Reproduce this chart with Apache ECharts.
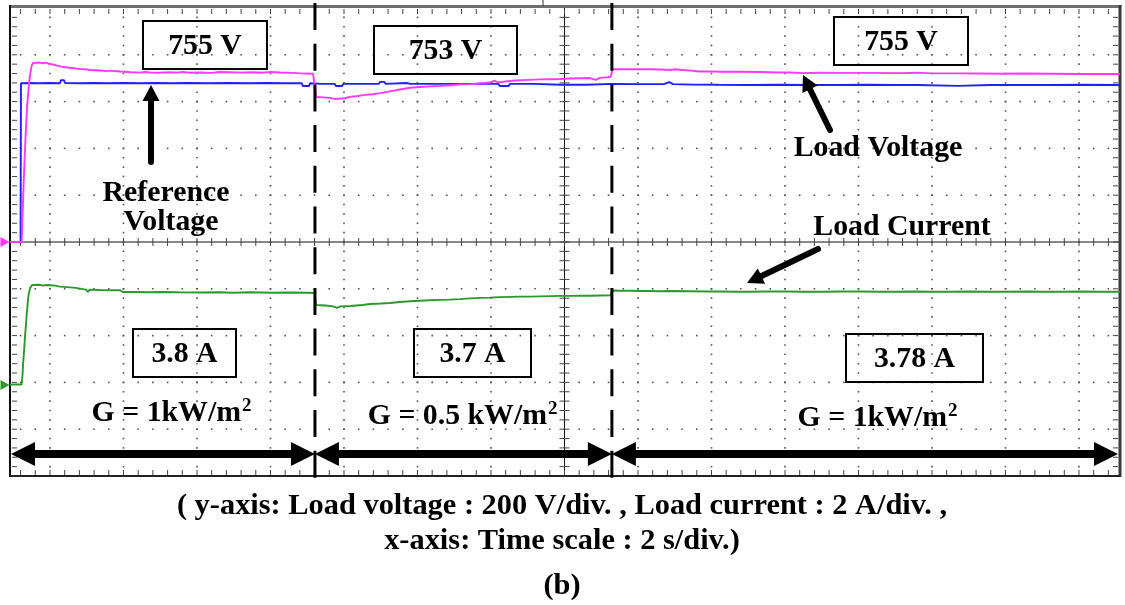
<!DOCTYPE html>
<html>
<head>
<meta charset="utf-8">
<script src="https://cdn.jsdelivr.net/npm/echarts@6/dist/echarts.min.js"></script>
<style>
  html, body { margin: 0; padding: 0; background: #fff; }
  #chart { width: 1125px; height: 605px; }
</style>
</head>
<body>
<div id="chart"></div>
<script>
// Scope capture of the PV-fed load: time base 2 s/div, t = 0 on the first graticule line.
const timeRange = [-1.088, 29.116];
const stepTimes = [7.21, 15.29];                  // irradiance steps
const irradianceLabels = ['G = 1kW/m', 'G = 0.5 kW/m', 'G = 1kW/m'];
const voltageLabels = [755, 753, 755];            // V
const currentLabels = [3.8, 3.7, 3.78];           // A
const captionLines = [
  '( y-axis: Load voltage : 200 V/div. , Load current : 2 A/div. ,',
  'x-axis: Time scale : 2 s/div.)',
  '(b)'
];

// Reference voltage (V)
const refVoltage = [
  [-1.088, 0], [-0.80, 0], [-0.79, 707], [-0.55, 708], [-0.30, 707], [0.00, 708], [0.27, 707],
  [0.30, 721], [0.38, 721], [0.41, 708], [0.80, 707], [1.20, 708], [1.60, 707], [2.00, 708],
  [2.45, 707], [2.90, 708], [3.30, 707], [3.80, 708], [4.30, 707], [4.90, 708], [5.40, 707],
  [5.90, 708], [6.40, 707], [6.85, 707], [6.88, 695], [7.05, 695], [7.08, 707], [7.40, 704],
  [7.75, 704], [7.78, 695], [7.95, 695], [7.98, 704], [8.60, 704], [8.95, 704], [8.98, 713],
  [9.10, 713], [9.13, 704], [9.70, 708], [9.80, 704], [10.40, 704], [11.00, 704], [11.60, 704],
  [12.20, 704], [12.24, 695], [12.48, 695], [12.52, 704], [13.20, 704], [13.90, 700], [14.60, 700],
  [14.65, 704], [15.30, 704], [16.00, 703], [16.70, 703], [16.85, 712], [16.95, 703], [17.50, 701],
  [18.20, 700], [19.00, 699], [19.80, 700], [20.60, 699], [21.40, 699], [22.20, 700], [23.00, 699],
  [23.60, 699], [23.65, 695], [24.70, 695], [24.75, 699], [25.60, 699], [26.40, 699], [27.20, 699],
  [28.10, 700], [29.116, 699]
];

// Load voltage (V)
const loadVoltage = [
  [-1.088, 0], [-0.77, 0], [-0.74, 150], [-0.71, 290], [-0.68, 410], [-0.65, 520], [-0.62, 610],
  [-0.58, 690], [-0.54, 745], [-0.50, 785], [-0.46, 797], [-0.30, 799], [-0.20, 796], [-0.14, 799],
  [0.00, 793], [0.14, 788], [0.27, 782], [0.41, 778], [0.54, 776], [0.68, 773], [0.82, 770],
  [0.95, 769], [1.10, 766], [1.36, 764], [1.50, 761], [1.64, 763], [1.90, 759], [2.04, 758],
  [2.20, 756], [2.45, 754], [2.60, 757], [2.72, 755], [3.00, 754], [3.27, 756], [3.45, 754],
  [3.60, 757], [3.80, 754], [4.08, 755], [4.40, 753], [4.60, 757], [4.90, 756], [5.20, 754],
  [5.44, 756], [5.80, 754], [6.00, 757], [6.26, 755], [6.60, 753], [6.94, 750], [7.16, 749],
  [7.20, 748], [7.24, 646], [7.45, 644], [7.62, 642], [7.75, 637], [8.03, 640], [8.16, 646],
  [8.37, 650], [8.57, 655], [8.78, 658], [8.98, 663], [9.25, 671], [9.52, 679], [9.80, 687],
  [10.07, 690], [10.34, 693], [10.61, 695], [10.88, 698], [11.16, 702], [11.43, 703], [11.70, 707],
  [11.97, 710], [12.10, 718], [12.20, 711], [12.52, 717], [12.79, 720], [13.06, 722], [13.33, 724],
  [13.61, 725], [13.88, 726], [14.15, 728], [14.42, 729], [14.69, 730], [14.85, 722], [14.97, 731],
  [15.18, 734], [15.26, 736], [15.31, 769], [15.51, 770], [15.78, 769], [16.05, 770], [16.33, 769],
  [16.60, 768], [16.90, 766], [17.00, 769], [17.14, 767], [17.42, 763], [17.69, 759], [18.00, 760],
  [18.23, 758], [18.78, 758], [19.32, 757], [19.80, 755], [20.14, 755], [20.50, 752], [20.95, 754],
  [21.40, 753], [21.77, 753], [22.45, 753], [23.13, 752], [23.60, 754], [24.00, 751], [24.76, 751],
  [25.30, 750], [25.85, 749], [26.50, 750], [27.21, 749], [28.03, 748], [29.116, 748]
];

// Load current (A)
const loadCurrent = [
  [-1.088, 0.02], [-0.77, 0.02], [-0.75, 0.35], [-0.73, 0.90], [-0.70, 1.50], [-0.68, 1.98],
  [-0.65, 2.55], [-0.63, 2.95], [-0.59, 3.62], [-0.54, 3.98], [-0.48, 4.10], [-0.30, 4.11],
  [-0.20, 4.08], [-0.05, 4.10], [0.14, 4.07], [0.27, 4.03], [0.54, 4.00], [0.70, 3.98], [0.82, 3.95],
  [0.98, 3.91], [1.03, 3.82], [1.08, 3.91], [1.36, 3.89], [1.64, 3.88], [1.91, 3.88], [1.98, 3.81],
  [2.30, 3.81], [2.72, 3.80], [3.00, 3.81], [3.50, 3.80], [4.08, 3.79], [4.60, 3.80], [5.00, 3.78],
  [5.44, 3.80], [6.00, 3.78], [6.50, 3.79], [7.00, 3.78], [7.20, 3.77], [7.24, 3.28], [7.50, 3.26],
  [7.70, 3.22], [7.81, 3.16], [7.90, 3.22], [8.16, 3.24], [8.50, 3.28], [8.71, 3.32], [9.00, 3.34],
  [9.25, 3.36], [9.52, 3.40], [9.80, 3.43], [10.07, 3.45], [10.34, 3.47], [10.61, 3.49], [10.88, 3.50],
  [11.16, 3.52], [11.43, 3.55], [11.70, 3.57], [11.97, 3.58], [12.25, 3.60], [12.52, 3.61], [12.79, 3.62],
  [13.06, 3.62], [13.33, 3.63], [13.61, 3.64], [13.88, 3.65], [14.15, 3.65], [14.42, 3.66], [14.69, 3.66],
  [14.97, 3.67], [15.26, 3.68], [15.31, 3.87], [15.51, 3.86], [15.80, 3.86], [16.05, 3.85], [16.30, 3.85],
  [16.60, 3.84], [16.90, 3.85], [17.40, 3.84], [17.90, 3.83], [18.20, 3.83], [18.70, 3.82], [19.00, 3.82],
  [19.50, 3.83], [20.00, 3.83], [20.50, 3.82], [21.00, 3.82], [21.60, 3.83], [22.00, 3.83], [22.60, 3.82],
  [23.00, 3.82], [23.50, 3.83], [24.00, 3.82], [24.50, 3.82], [25.00, 3.83], [25.60, 3.82], [26.00, 3.82],
  [26.60, 3.83], [27.00, 3.82], [27.60, 3.82], [28.00, 3.83], [28.60, 3.82], [29.116, 3.82]
];

const SERIF = "'Liberation Serif', 'Times New Roman', serif";
const COLORS = { ref: '#1f1fff', load: '#ff38ff', current: '#2c992c' };

// Oscilloscope graticule: dotted division lines, centre cross with minor ticks, edge ticks.
function renderGraticule(params, api) {
  const P = (t, d) => api.coord([t, d]);
  const children = [];
  const dot = { fill: '#555' };
  const tick = { stroke: '#444', lineWidth: 1 };
  const minorT = [];
  for (let k = -2; k * 0.4 <= timeRange[1] + 1e-9; k++) {
    const t = +(k * 0.4).toFixed(2);
    if (t >= timeRange[0]) minorT.push(t);
  }
  const minorD = [];
  for (let k = 1; k < 50; k++) minorD.push(+(-5 + k * 0.2).toFixed(2));

  for (let d = -4; d <= 4; d++) {
    if (d === 0) continue;
    minorT.forEach(t => {
      const [x, y] = P(t, d);
      children.push({ type: 'rect', shape: { x: x - 0.8, y: y - 0.8, width: 1.6, height: 1.6 }, style: dot });
    });
  }
  for (let t = 0; t <= 28; t += 2) {
    if (t === 14) continue;
    minorD.forEach(d => {
      const [x, y] = P(t, d);
      children.push({ type: 'rect', shape: { x: x - 0.8, y: y - 0.8, width: 1.6, height: 1.6 }, style: dot });
    });
  }
  const [xl, yt] = P(timeRange[0], 5);
  const [xr, yb] = P(timeRange[1], -5);
  const [xc, yc] = P(14, 0);
  // centre cross
  children.push({ type: 'line', shape: { x1: xl, y1: yc, x2: xr, y2: yc }, style: { stroke: '#111', lineWidth: 1 } });
  children.push({ type: 'line', shape: { x1: xc, y1: yt, x2: xc, y2: yb }, style: { stroke: '#111', lineWidth: 1 } });
  minorT.forEach(t => {
    const [x] = P(t, 0);
    children.push({ type: 'line', shape: { x1: x, y1: yc - 4, x2: x, y2: yc + 4 }, style: tick });
    children.push({ type: 'line', shape: { x1: x, y1: yt + 1, x2: x, y2: yt + 6 }, style: tick });
    children.push({ type: 'line', shape: { x1: x, y1: yb - 6, x2: x, y2: yb - 1 }, style: tick });
  });
  minorD.forEach(d => {
    const [, y] = P(14, d);
    children.push({ type: 'line', shape: { x1: xc - 5, y1: y, x2: xc + 5, y2: y }, style: tick });
    children.push({ type: 'line', shape: { x1: xl + 2, y1: y, x2: xl + 7, y2: y }, style: tick });
    children.push({ type: 'line', shape: { x1: xr - 7, y1: y, x2: xr - 2, y2: y }, style: tick });
  });
  // frame
  children.push({ type: 'line', shape: { x1: xl, y1: yt - 1.5, x2: xr + 1.5, y2: yt - 1.5 }, style: { stroke: '#6e6e6e', lineWidth: 3 } });
  children.push({ type: 'line', shape: { x1: xl, y1: yt - 3, x2: xl, y2: yb + 1 }, style: { stroke: '#111', lineWidth: 2 } });
  children.push({ type: 'line', shape: { x1: xr, y1: yt - 3, x2: xr, y2: yb + 1 }, style: { stroke: '#3a3a3a', lineWidth: 3 } });
  children.push({ type: 'line', shape: { x1: xl, y1: yb, x2: xr, y2: yb }, style: { stroke: '#222', lineWidth: 2 } });
  return { type: 'group', children };
}

const chart = echarts.init(document.getElementById('chart'), null, { renderer: 'canvas' });

const option = {
  animation: false,
  grid: { left: 10, top: 8, width: 1110, height: 468, show: false },
  xAxis: { type: 'value', min: timeRange[0], max: timeRange[1], show: false },
  yAxis: [
    { type: 'value', min: -1042, max: 1042, show: false },    // voltage
    { type: 'value', min: -3.73, max: 15.45, show: false },   // current
    { type: 'value', min: -5, max: 5, show: false }           // divisions
  ],
  series: [
    {
      type: 'custom', name: 'graticule', xAxisIndex: 0, yAxisIndex: 2,
      data: [[0, 0]], renderItem: renderGraticule, silent: true, clip: false, z: 1
    },
    {
      type: 'line', name: 'Reference Voltage', xAxisIndex: 0, yAxisIndex: 0, data: refVoltage,
      showSymbol: false, silent: true, z: 3,
      lineStyle: { color: COLORS.ref, width: 1.9 }, itemStyle: { color: COLORS.ref }
    },
    {
      type: 'line', name: 'Load Voltage', xAxisIndex: 0, yAxisIndex: 0, data: loadVoltage,
      showSymbol: false, silent: true, z: 4,
      lineStyle: { color: COLORS.load, width: 1.9 }, itemStyle: { color: COLORS.load },
      markPoint: {
        silent: true, symbol: 'triangle', symbolSize: [10, 9], symbolRotate: -90, symbolOffset: [-5, 0],
        label: { show: false }, itemStyle: { color: COLORS.load },
        data: [{ coord: [timeRange[0], 0] }]
      }
    },
    {
      type: 'line', name: 'Load Current', xAxisIndex: 0, yAxisIndex: 1, data: loadCurrent,
      showSymbol: false, silent: true, z: 4,
      lineStyle: { color: COLORS.current, width: 1.9 }, itemStyle: { color: COLORS.current },
      markPoint: {
        silent: true, symbol: 'triangle', symbolSize: [10, 9], symbolRotate: -90, symbolOffset: [-5, 0],
        label: { show: false }, itemStyle: { color: COLORS.current },
        data: [{ coord: [timeRange[0], 0] }]
      }
    }
  ]
};
chart.setOption(option);

// ---- annotations ----
const px = t => chart.convertToPixel({ xAxisIndex: 0 }, t);
const g = [];
const Z = 50;
const FS = 29.8;

function text(str, x, y, size, align) {
  g.push({
    type: 'text', x, y, z: Z,
    style: {
      text: str, fontFamily: SERIF, fontWeight: 'bold', fontSize: size || FS,
      fill: '#000', align: align || 'center', verticalAlign: 'middle'
    }
  });
}
function box(x, y, w, h, str) {
  g.push({ type: 'rect', z: Z, shape: { x, y, width: w, height: h }, style: { fill: 'none', stroke: '#000', lineWidth: 2 } });
  text(str, x + w / 2, y + h / 2 + 1);
}
function head(tx, ty, ux, uy, hl, hw) {
  const bx = tx - ux * hl, by = ty - uy * hl, nx = -uy, ny = ux;
  g.push({
    type: 'polygon', z: Z,
    shape: { points: [[tx, ty], [bx + nx * hw / 2, by + ny * hw / 2], [bx - nx * hw / 2, by - ny * hw / 2]] },
    style: { fill: '#000' }
  });
}
function arrow(x1, y1, x2, y2, w, hl, hw) {
  const L = Math.hypot(x2 - x1, y2 - y1), ux = (x2 - x1) / L, uy = (y2 - y1) / L;
  g.push({
    type: 'line', z: Z, shape: { x1, y1, x2: x2 - ux * (hl - 1), y2: y2 - uy * (hl - 1) },
    style: { stroke: '#000', lineWidth: w, lineCap: 'round' }
  });
  head(x2, y2, ux, uy, hl, hw);
}
function doubleArrow(xa, xb, y) {
  const hl = 24, hw = 24;
  g.push({ type: 'line', z: Z, shape: { x1: xa + hl - 1, y1: y, x2: xb - hl + 1, y2: y }, style: { stroke: '#000', lineWidth: 8 } });
  head(xa, y, -1, 0, hl, hw);
  head(xb, y, 1, 0, hl, hw);
}
function irradiance(str, xr, baseline) {
  text(str, xr, baseline - 10, FS, 'right');
  text('2', xr + 1, baseline - 16.5, 19, 'left');
}

// irradiance step markers
stepTimes.forEach(t => {
  const x = px(t);
  g.push({ type: 'line', z: Z - 1, shape: { x1: x, y1: 3, x2: x, y2: 478 }, style: { stroke: '#000', lineWidth: 3, lineDash: [27, 13.7] } });
});
// trigger mark above the screen
g.push({ type: 'line', z: Z, shape: { x1: 543, y1: 0, x2: 543, y2: 6 }, style: { stroke: '#333', lineWidth: 1 } });

// value boxes
box(143, 21, 124, 48, voltageLabels[0] + ' V');
box(374, 26, 143, 48, voltageLabels[1] + ' V');
box(834, 17, 134, 48, voltageLabels[2] + ' V');
box(133, 329, 103, 48, currentLabels[0] + ' A');
box(414, 329, 117, 48, currentLabels[1] + ' A');
box(846, 334, 137, 48, currentLabels[2] + ' A');

// trace call-outs
arrow(151, 162, 151, 85, 6, 16, 17);
text('Reference', 166, 193);
text('Voltage', 171, 222);
arrow(830, 130, 803, 75, 6, 16, 17);
text('Load Voltage', 878, 148);
arrow(818, 249, 747, 283, 6, 16, 17);
text('Load Current', 902, 227);

// irradiance labels
irradiance(irradianceLabels[0], 241, 423);
irradiance(irradianceLabels[1], 547, 426);
irradiance(irradianceLabels[2], 947, 428);

// section arrows
const edges = [px(timeRange[0]) + 1, px(stepTimes[0]), px(stepTimes[1]), px(timeRange[1]) - 2];
for (let i = 0; i < 3; i++) doubleArrow(edges[i], edges[i + 1], 454);

// caption
text(captionLines[0], 562, 506, 30.4);
text(captionLines[1], 562, 541, 30.4);
text(captionLines[2], 562, 586, 30.4);

chart.setOption({ graphic: g });
</script>
</body>
</html>
